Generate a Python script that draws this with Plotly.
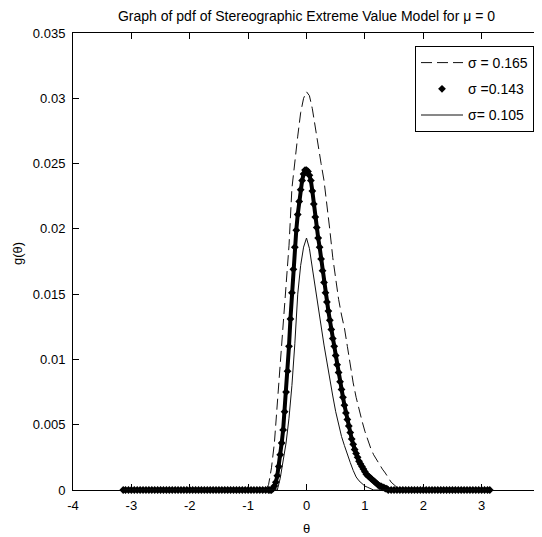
import plotly.graph_objects as go

# ---------------- data ----------------
# sigma = 0.165 (dashed)
theta_165 = [-3.14, -0.70, -0.65, -0.60, -0.55, -0.50, -0.45, -0.40, -0.35, -0.30, -0.25,
             -0.20, -0.15, -0.10, -0.05, 0.00, 0.05, 0.10, 0.15, 0.20, 0.25, 0.30, 0.35,
             0.40, 0.45, 0.50, 0.55, 0.60, 0.65, 0.70, 0.75, 0.80, 0.85, 0.90, 0.95, 1.00,
             1.05, 1.10, 1.15, 1.20, 1.25, 1.30, 1.35, 1.40, 1.45, 1.50, 1.55, 1.60, 1.65, 3.14]
g_165 = [0.0, 0.0, 0.0004, 0.0017, 0.0036, 0.0065, 0.0096, 0.0123, 0.0152, 0.0187, 0.0231,
         0.0253, 0.0271, 0.0289, 0.0300, 0.0305, 0.0302, 0.0292, 0.0277, 0.0262, 0.0250, 0.0237, 0.0219,
         0.0199, 0.0178, 0.0160, 0.0146, 0.0134, 0.0124, 0.0110, 0.0095, 0.0082, 0.0071, 0.0061, 0.0053, 0.0045,
         0.0038, 0.0032, 0.0027, 0.0023, 0.0020, 0.0016, 0.0013, 0.0009, 0.0006, 0.0004, 0.0002, 0.0001, 0.0, 0.0]

# sigma = 0.143 (markers)
theta_143 = [-3.14, -3.10, -3.05, -3.00, -2.95, -2.90, -2.85, -2.80, -2.75, -2.70, -2.65,
             -2.60, -2.55, -2.50, -2.45, -2.40, -2.35, -2.30, -2.25, -2.20, -2.15, -2.10,
             -2.05, -2.00, -1.95, -1.90, -1.85, -1.80, -1.75, -1.70, -1.65, -1.60, -1.55,
             -1.50, -1.45, -1.40, -1.35, -1.30, -1.25, -1.20, -1.15, -1.10, -1.05, -1.00,
             -0.95, -0.90, -0.85, -0.80, -0.75, -0.70,
             -0.650, -0.625, -0.600, -0.575, -0.550, -0.525, -0.500, -0.475, -0.450, -0.425,
             -0.400, -0.375, -0.350, -0.325, -0.300, -0.275, -0.250, -0.225, -0.200, -0.175,
             -0.150, -0.125, -0.100, -0.075, -0.050, -0.025, 0.000, 0.025, 0.050, 0.075,
             0.100, 0.125, 0.150, 0.175, 0.200, 0.225, 0.250, 0.275, 0.300, 0.325, 0.350,
             0.375, 0.400, 0.425, 0.450, 0.475, 0.500, 0.525, 0.550, 0.575, 0.600, 0.625,
             0.650, 0.675, 0.700, 0.725, 0.750, 0.775, 0.800, 0.825, 0.850, 0.875, 0.900,
             0.925, 0.950, 0.975, 1.000, 1.025, 1.050, 1.075, 1.100, 1.125, 1.150, 1.175,
             1.200, 1.225, 1.250, 1.275, 1.300, 1.325, 1.350, 1.375, 1.400,
             1.45, 1.50, 1.55, 1.60, 1.65, 1.70, 1.75, 1.80, 1.85, 1.90, 1.95, 2.00, 2.05,
             2.10, 2.15, 2.20, 2.25, 2.30, 2.35, 2.40, 2.45, 2.50, 2.55, 2.60, 2.65, 2.70,
             2.75, 2.80, 2.85, 2.90, 2.95, 3.00, 3.05, 3.10, 3.14]
g_143 = [0.0, 0.0, 0.0, 0.0, 0.0, 0.0, 0.0, 0.0, 0.0, 0.0, 0.0,
         0.0, 0.0, 0.0, 0.0, 0.0, 0.0, 0.0, 0.0, 0.0, 0.0, 0.0,
         0.0, 0.0, 0.0, 0.0, 0.0, 0.0, 0.0, 0.0, 0.0, 0.0, 0.0,
         0.0, 0.0, 0.0, 0.0, 0.0, 0.0, 0.0, 0.0, 0.0, 0.0, 0.0,
         0.0, 0.0, 0.0, 0.0, 0.0, 0.0,
         0.0, 0.0, 0.0, 0.0001, 0.0003, 0.0006, 0.0011, 0.0018, 0.0027, 0.0036,
         0.0046, 0.0060, 0.0075, 0.0091, 0.0110, 0.0131, 0.0151, 0.0169, 0.0186, 0.0199,
         0.0211, 0.0221, 0.0230, 0.0237, 0.0242, 0.0245, 0.0245, 0.0244, 0.0241, 0.0237,
         0.0229, 0.0219, 0.0209, 0.0201, 0.0193, 0.0186, 0.0177, 0.0168, 0.0159, 0.0151, 0.0144,
         0.0137, 0.0130, 0.0123, 0.0116, 0.0110, 0.0103, 0.0096, 0.0090, 0.0083, 0.0077, 0.0071,
         0.0065, 0.0059, 0.0054, 0.0049, 0.0044, 0.0039, 0.0035, 0.0031, 0.0028, 0.0025, 0.0022,
         0.0020, 0.0018, 0.0016, 0.0014, 0.0012, 0.0011, 0.0010, 0.0009, 0.0008, 0.0007, 0.0006,
         0.0005, 0.0004, 0.0003, 0.0003, 0.0002, 0.0002, 0.0001, 0.0001, 0.0,
         0.0, 0.0, 0.0, 0.0, 0.0, 0.0, 0.0, 0.0, 0.0, 0.0, 0.0, 0.0, 0.0,
         0.0, 0.0, 0.0, 0.0, 0.0, 0.0, 0.0, 0.0, 0.0, 0.0, 0.0, 0.0, 0.0,
         0.0, 0.0, 0.0, 0.0, 0.0, 0.0, 0.0, 0.0, 0.0]

# sigma = 0.105 (solid)
theta_105 = [-3.14, -0.50, -0.45, -0.40, -0.35, -0.30, -0.25, -0.20, -0.15, -0.10, -0.05,
             0.00, 0.05, 0.10, 0.15, 0.20, 0.25, 0.30, 0.35, 0.40, 0.45, 0.50, 0.55, 0.60,
             0.65, 0.70, 0.75, 0.80, 0.85, 0.90, 0.95, 1.00, 1.05, 1.10, 1.15, 3.14]
g_105 = [0.0, 0.0, 0.0009, 0.0022, 0.0036, 0.0055, 0.0080, 0.0112, 0.0150, 0.0172, 0.0186,
         0.0193, 0.0185, 0.0170, 0.0155, 0.0140, 0.0124, 0.0111, 0.0098, 0.0084, 0.0072, 0.0060, 0.0050, 0.0041,
         0.0034, 0.0027, 0.0021, 0.0015, 0.0010, 0.0007, 0.0005, 0.0003, 0.0002, 0.0001, 0.0, 0.0]

labels = ["\u03c3 = 0.165", "\u03c3 =0.143", "\u03c3= 0.105"]
x_ticks = [-4, -3, -2, -1, 0, 1, 2, 3, 4]
y_ticks = [0, 0.005, 0.01, 0.015, 0.02, 0.025, 0.03, 0.035]
y_ticktext = ["0", "0.005", "0.01", "0.015", "0.02", "0.025", "0.03", "0.035"]
title_text = "Graph of pdf of Stereographic Extreme Value Model for \u03bc = 0"

# ---------------- figure ----------------
# the page body has an 8px margin, so the figure is drawn 8px smaller / offset
OFF = 8
W, H = 542 - OFF, 537 - OFF
L, R, T, B = 73 - OFF, 2, 33 - OFF, 47
PW, PH = W - L - R, H - T - B
PLOT_BOTTOM = H - B


def px_x(xw):  # window px -> paper x
    return (xw - OFF - L) / PW


def px_y(yw):  # window px -> paper y
    return (PLOT_BOTTOM - (yw - OFF)) / PH


FONT = "Liberation Sans, Arial, sans-serif"
fig = go.Figure()

fig.add_trace(go.Scatter(x=theta_165, y=g_165, mode="lines", name=labels[0],
                         legendgroup="a",
                         line=dict(color="#111111", width=1, dash="11px,5px")))
fig.add_trace(go.Scatter(x=theta_143, y=g_143, mode="lines+markers", showlegend=False,
                         legendgroup="b", cliponaxis=False,
                         line=dict(color="black", width=4),
                         marker=dict(symbol="diamond", size=6, color="black")))
fig.add_trace(go.Scatter(x=[None], y=[None], mode="markers", name=labels[1],
                         legendgroup="b",
                         marker=dict(symbol="diamond", size=6, color="black")))
fig.add_trace(go.Scatter(x=theta_105, y=g_105, mode="lines", name=labels[2],
                         legendgroup="c",
                         line=dict(color="#111111", width=1)))

axis_common = dict(showline=True, linecolor="black", linewidth=1, mirror="ticks",
                   ticks="inside", ticklen=6, tickcolor="black", showgrid=False,
                   zeroline=False, tickfont=dict(family=FONT, size=13, color="black"))

fig.update_xaxes(range=[-4, 4], tickvals=x_ticks, ticktext=[str(v) for v in x_ticks],
                 ticklabelstandoff=3, **axis_common)
fig.update_yaxes(range=[0, 0.035], tickvals=y_ticks, ticktext=y_ticktext,
                 ticklabelstandoff=4, **axis_common)

fig.update_layout(
    width=W, height=H,
    margin=dict(l=L, r=R, t=T, b=B),
    paper_bgcolor="white", plot_bgcolor="white",
    font=dict(family=FONT, size=13, color="black"),
    title=dict(text=title_text, x=0.5, xref="paper", y=1 - (16 - OFF) / H, yref="container",
               yanchor="middle", xanchor="center",
               font=dict(family=FONT, size=14, color="black")),
    showlegend=True,
    legend=dict(x=px_x(534), y=px_y(46), xanchor="right", yanchor="top",
                bgcolor="white", bordercolor="black", borderwidth=1,
                font=dict(family=FONT, size=14, color="black"),
                itemwidth=42, tracegroupgap=5, traceorder="grouped"),
    annotations=[
        dict(text="\u03b8", x=0.5, xref="paper", y=px_y(528), yref="paper",
             showarrow=False, xanchor="center", yanchor="middle",
             font=dict(family=FONT, size=13, color="black")),
        dict(text="g(\u03b8)", x=px_x(17), xref="paper", y=px_y(254), yref="paper",
             showarrow=False, textangle=-90, xanchor="center", yanchor="middle",
             font=dict(family=FONT, size=13, color="black")),
    ],
)

fig.write_html("out.html")
